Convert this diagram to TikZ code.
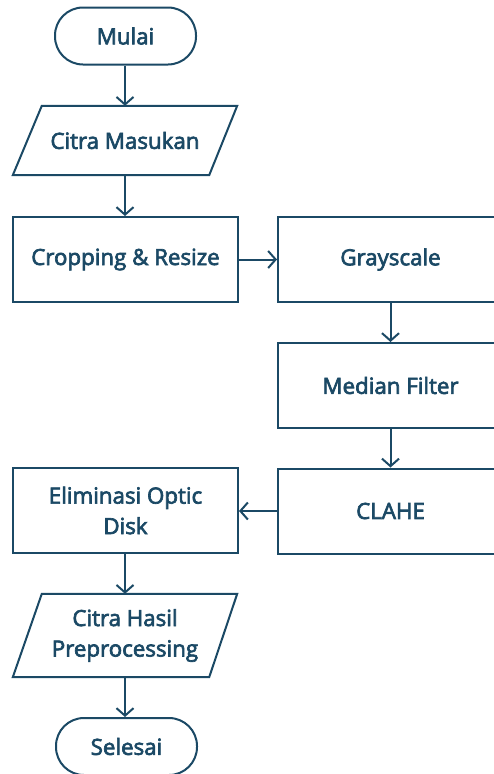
\documentclass[tikz,border=0pt]{standalone}
\usepackage{fontspec}
\setmainfont{Open Sans}[UprightFeatures={FakeBold=3}]
\usetikzlibrary{arrows.meta}
\definecolor{ink}{HTML}{1B4965}
\begin{document}
\begin{tikzpicture}[x=1pt,y=-1pt,
  every node/.style={font=\fontsize{22.3}{30.5}\selectfont, text=ink, align=center, inner sep=0pt},
  procbox/.style={draw=ink, line width=2pt, minimum width=225pt, minimum height=85pt},
  termbox/.style={draw=ink, line width=2pt, minimum width=141pt, minimum height=57pt, rounded corners=28pt},
  iobox/.style={minimum width=224pt, minimum height=69pt},
  ioline/.style={draw=ink, line width=2pt, line join=miter},
  flow/.style={draw=ink, line width=2pt, -{Straight Barb[length=7.5pt,width=17pt,line width=2pt]}}
]
\useasboundingbox (0,0) rectangle (494,774);
\clip (0,0) rectangle (494,774);

\node[termbox] (mulai) at (125.5,36) {Mulai};
\node[iobox] (masukan) at (125,140.5) {Citra Masukan};
\draw[ioline] ([xshift=29pt]masukan.north west) -- (masukan.north east)
  -- ([xshift=-28pt]masukan.south east) -- (masukan.south west) -- cycle;
\node[procbox] (crop) at (125.5,259.5) {Cropping \& Resize};
\node[procbox] (gray) at (390.5,259.5) {Grayscale};
\node[procbox] (median) at (390.5,385.5) {Median Filter};
\node[procbox] (clahe) at (390.5,511) {CLAHE};
\node[procbox] (elim) at (125.5,510.5) {Eliminasi Optic\\Disk};
\node[iobox, minimum height=83pt] (hasil) at (125,635.5) {Citra Hasil\\Preprocessing};
\draw[ioline] ([xshift=29pt]hasil.north west) -- (hasil.north east)
  -- ([xshift=-28pt]hasil.south east) -- (hasil.south west) -- cycle;
\node[termbox] (selesai) at (126.5,746.5) {Selesai};

\draw[flow] (mulai.south -| masukan.north) -- (masukan.north);
\draw[flow] (masukan.south) -- (masukan.south |- crop.north);
\draw[flow] (crop.east) -- (gray.west);
\draw[flow] (gray.south) -- (median.north);
\draw[flow] (median.south) -- (clahe.north);
\draw[flow] (clahe.west) -- (elim.east |- clahe.west);
\draw[flow] (elim.south -| hasil.north) -- (hasil.north);
\draw[flow] (hasil.south) -- (hasil.south |- selesai.north);
\end{tikzpicture}
\end{document}
